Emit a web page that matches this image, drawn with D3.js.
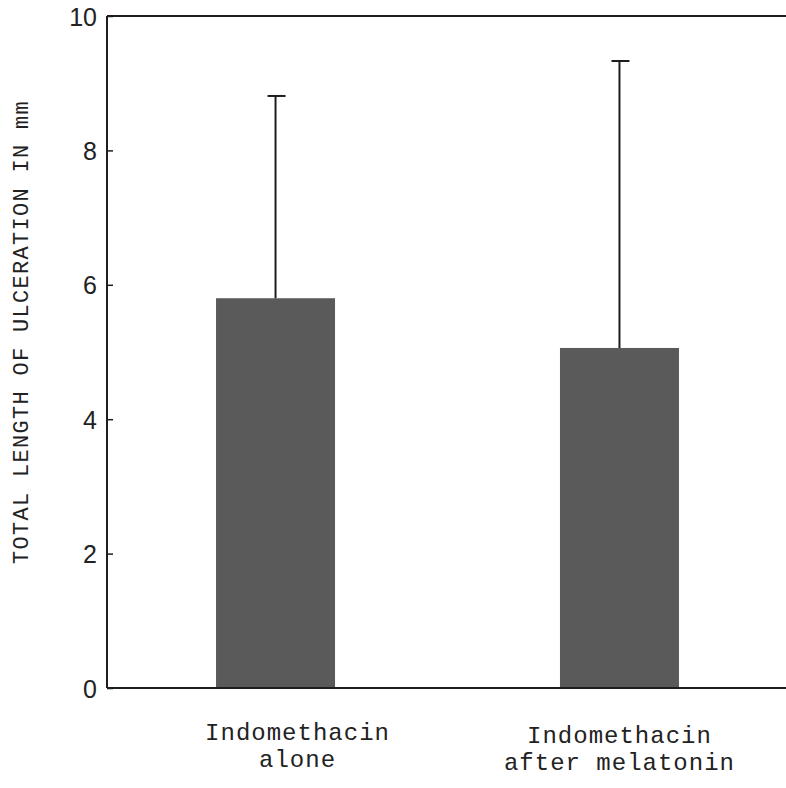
<!DOCTYPE html>
<html>
<head>
<meta charset="utf-8">
<script src="https://cdn.jsdelivr.net/npm/d3@7"></script>
<style>
  html, body { margin: 0; padding: 0; background: #fff; }
  svg { display: block; }
</style>
</head>
<body>
<svg id="chart" width="786" height="788"></svg>
<script>
// Mean ulceration length per treatment group, with upper error (mean + SD)
const groups = ["Indomethacin alone", "Indomethacin after melatonin"];
const labelLines = [["Indomethacin", "alone"], ["Indomethacin", "after melatonin"]];
const means = [5.80, 5.06];
const upper = [8.81, 9.33];
const yTicks = [0, 2, 4, 6, 8, 10];
const yTitle = "TOTAL LENGTH OF ULCERATION IN mm";

const svg = d3.select("#chart");
const W = 786;
const plotLeft = 107, plotTop = 16, plotBottom = 688;

const x = d3.scaleBand()
  .domain(groups)
  .range([plotLeft, 788])
  .paddingInner(0.654)
  .paddingOuter(0.317);

const y = d3.scaleLinear().domain([0, 10]).range([plotBottom, plotTop]);

const ink = "#1e1e1e";

// bars
svg.append("g").selectAll("rect")
  .data(groups)
  .join("rect")
  .attr("x", d => x(d))
  .attr("width", x.bandwidth())
  .attr("y", (d, i) => y(means[i]))
  .attr("height", (d, i) => y(0) - y(means[i]))
  .attr("fill", "#5a5a5a");

// error bars (upper only)
const eb = svg.append("g").attr("stroke", ink).attr("stroke-width", 2);
groups.forEach((g, i) => {
  const cx = x(g) + x.bandwidth() / 2;
  eb.append("line").attr("x1", cx).attr("x2", cx).attr("y1", y(means[i])).attr("y2", y(upper[i]));
  eb.append("line").attr("x1", cx - 8).attr("x2", cx + 10).attr("y1", y(upper[i])).attr("y2", y(upper[i]));
});

// y axis with inward ticks
const yAxis = d3.axisLeft(y).tickValues(yTicks).tickSize(-6).tickFormat(d3.format("d"));
const ga = svg.append("g").attr("transform", `translate(${plotLeft},0)`).call(yAxis);
ga.select(".domain").remove();
ga.selectAll(".tick line").attr("stroke", ink).attr("stroke-width", 1.5);
ga.selectAll(".tick text")
  .attr("font-family", "'Liberation Sans', Arial, sans-serif")
  .attr("font-size", 25)
  .attr("fill", "#222")
  .attr("x", -10)
  .attr("dy", "0.36em");

// frame: left axis, top and bottom lines
const frame = svg.append("g").attr("stroke", ink).attr("stroke-width", 2).attr("fill", "none");
frame.append("line").attr("x1", plotLeft).attr("x2", plotLeft).attr("y1", y(10)).attr("y2", y(0));
frame.append("line").attr("x1", plotLeft).attr("x2", W).attr("y1", y(10)).attr("y2", y(10));
frame.append("line").attr("x1", plotLeft).attr("x2", W).attr("y1", y(0)).attr("y2", y(0));

// y axis title
svg.append("text")
  .attr("transform", `translate(28, ${(y(0) + y(10)) / 2 - 20}) rotate(-90)`)
  .attr("text-anchor", "middle")
  .attr("font-family", "'Liberation Mono', 'Courier New', monospace")
  .attr("font-size", 22)
  .attr("letter-spacing", 1.3)
  .attr("fill", "#222")
  .text(yTitle);

// category labels
const labelOffsets = [22, 0];
const lab = svg.append("g")
  .attr("font-family", "'Liberation Mono', 'Courier New', monospace")
  .attr("font-size", 24)
  .attr("letter-spacing", 1)
  .attr("fill", "#222")
  .attr("text-anchor", "middle");
groups.forEach((g, i) => {
  const cx = x(g) + x.bandwidth() / 2 + labelOffsets[i];
  labelLines[i].forEach((t, j) => {
    lab.append("text").attr("x", cx).attr("y", 740 + i * 3 + j * 27).text(t);
  });
});
</script>
</body>
</html>
